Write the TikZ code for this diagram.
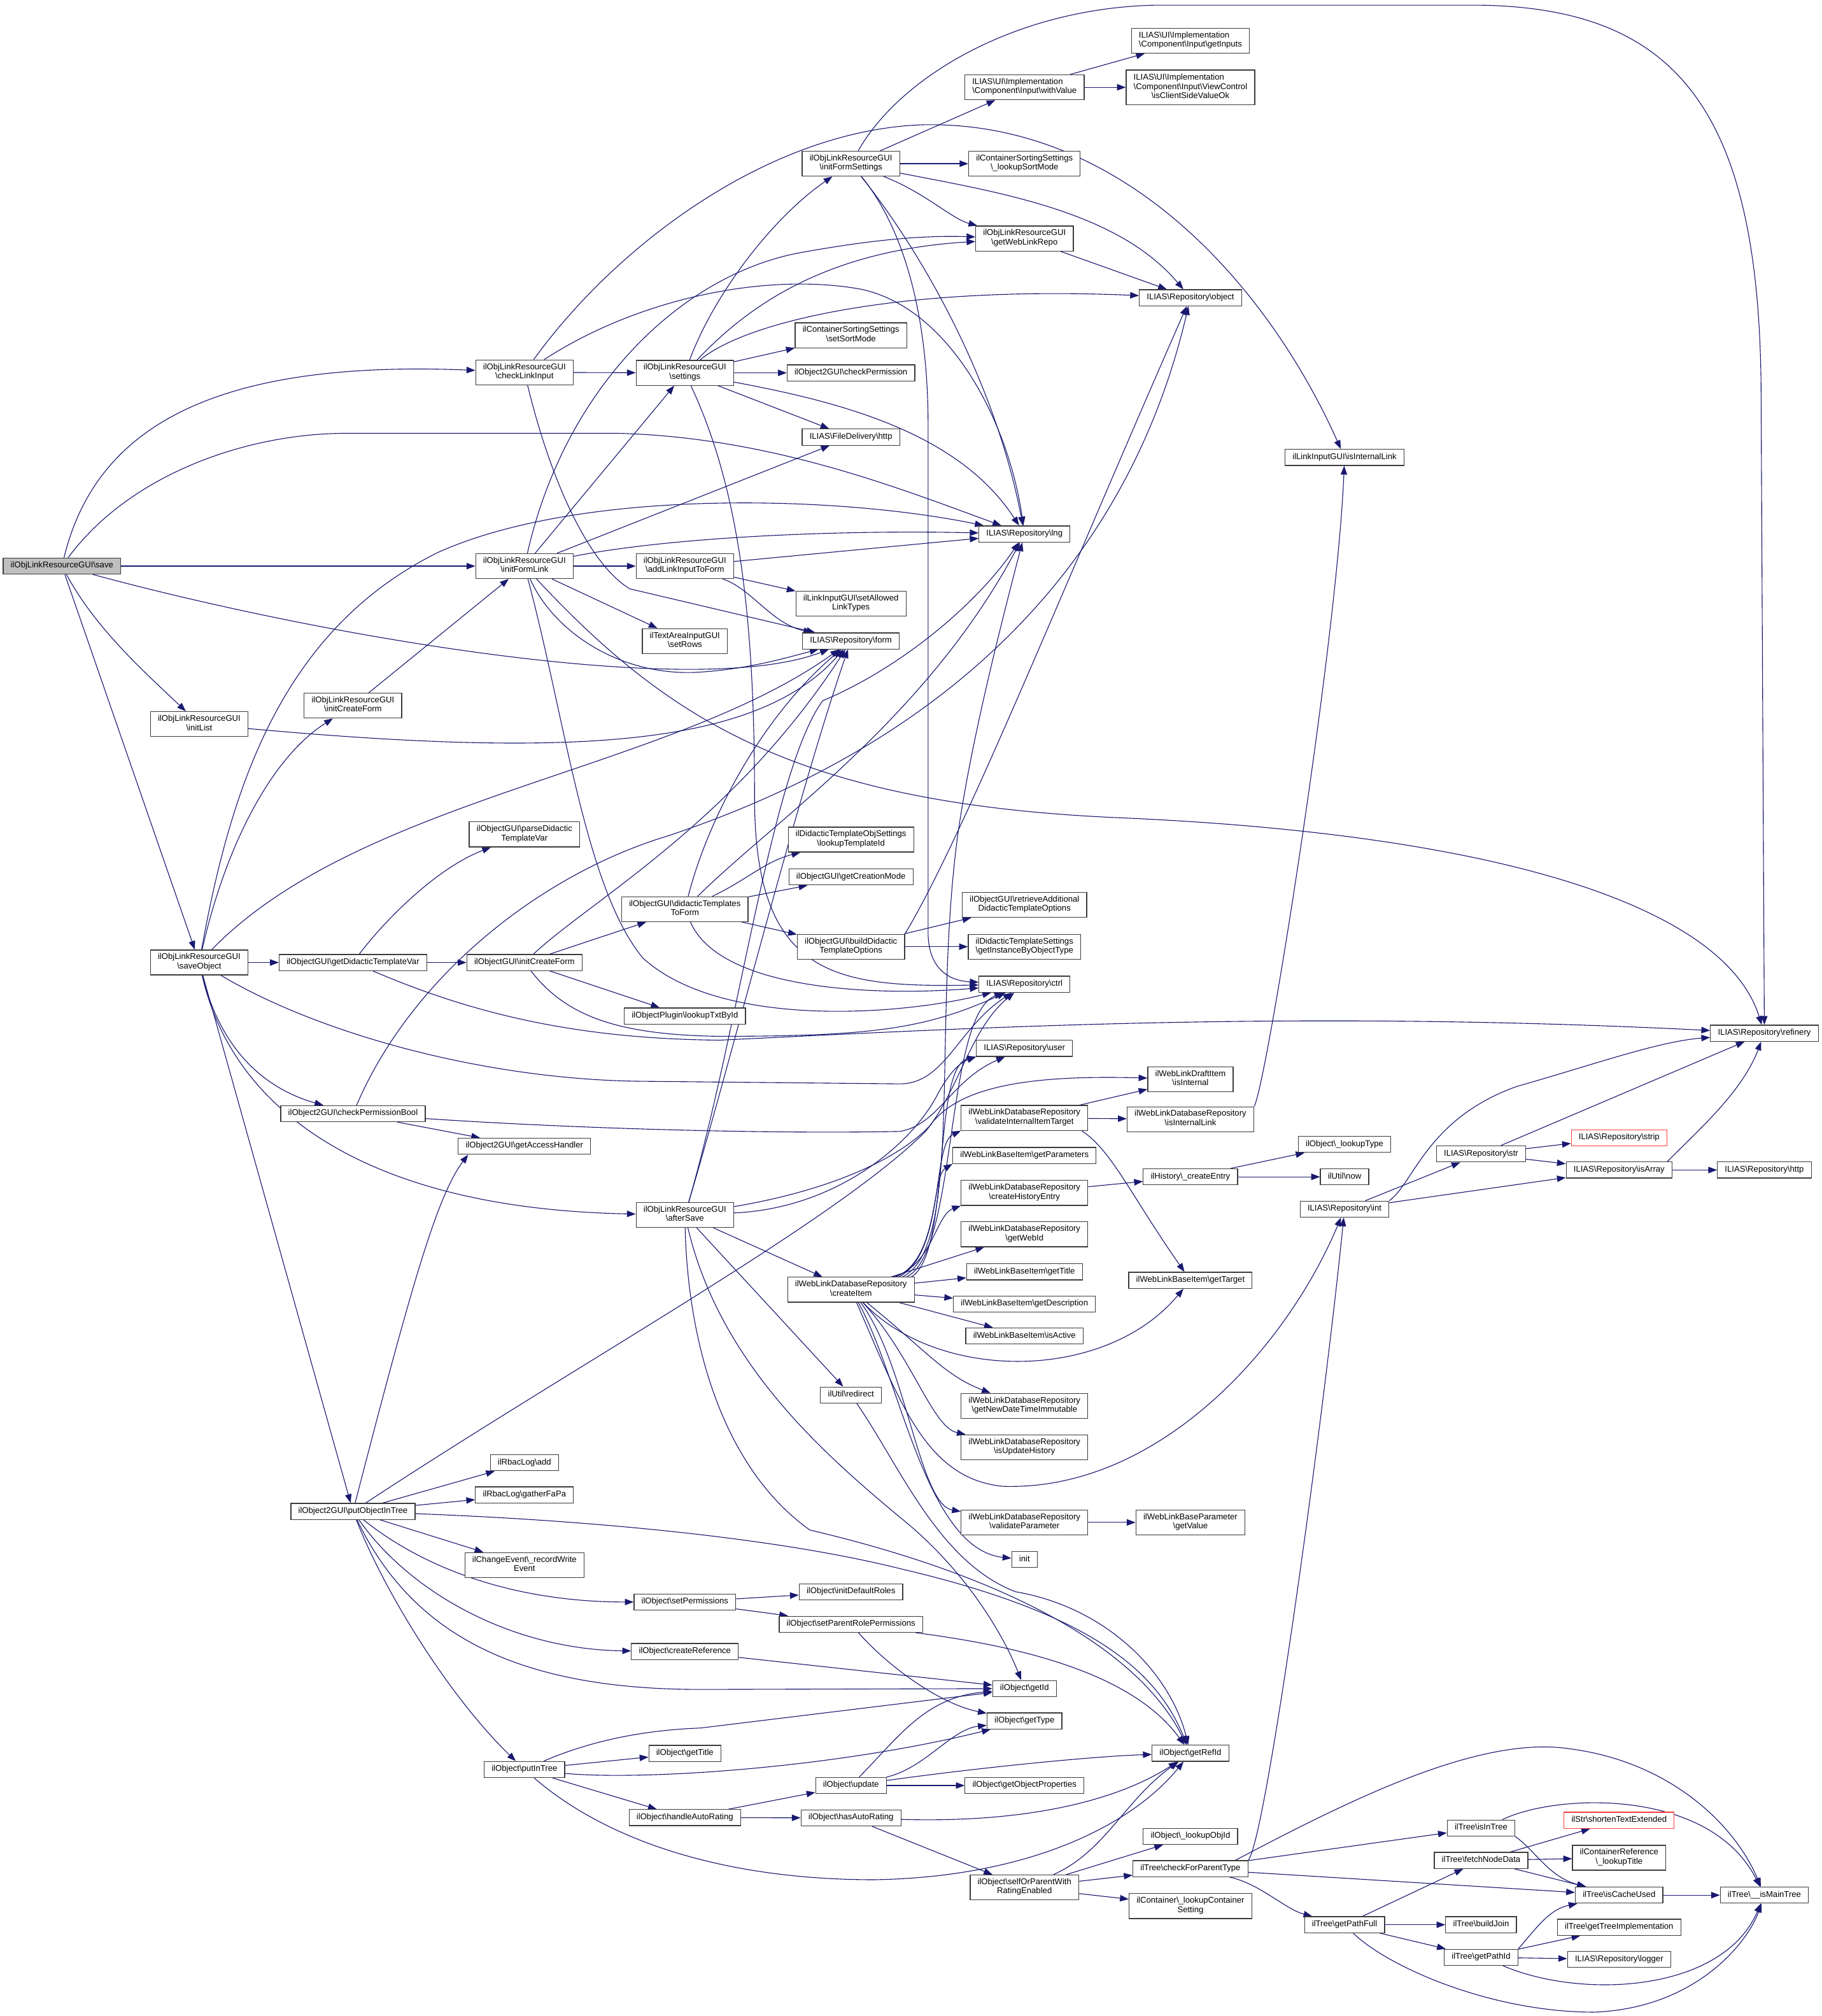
\documentclass[tikz,border=0pt]{standalone}
\usepackage{fontspec}
\newfontfamily\lsans{Liberation Sans}
\usetikzlibrary{arrows.meta}
\definecolor{mblue}{RGB}{25,25,112}
\definecolor{nborder}{RGB}{60,60,60}
\definecolor{truncred}{RGB}{255,60,60}
\newcommand{\nf}{\lsans\fontsize{6.5}{7.2}\selectfont}
\newcommand{\bs}{\textbackslash}
\pgfdeclarelayer{bg}
\pgfsetlayers{bg,main}
\tikzset{
 nd/.style={draw=nborder, fill=white, line width=0.6pt, inner xsep=5.8pt, inner ysep=2.65pt, font=\nf, align=center, execute at begin node=\strut, execute at end node=\strut},
 ndl/.style={nd, align=left},
 ndt/.style={draw=nborder, fill=white, line width=0.6pt, inner xsep=5.8pt, inner ysep=2.65pt, font=\nf},
 rootnd/.style={nd, fill=black!25},
 truncnd/.style={nd, draw=truncred},
 e/.style={draw=mblue, line width=0.55pt, -{Triangle[length=6.8pt,width=5pt]}},
}
\begin{document}
\begin{tikzpicture}[x=1pt,y=-1pt]
\useasboundingbox (0,0) rectangle (1417,1568);
% column 1-3
\node[rootnd] (save) at (48.2,440.3) {ilObjLinkResourceGUI\bs save};
\node[nd] (initlist) at (155,563.2) {ilObjLinkResourceGUI\\\bs initList};
\node[nd] (saveobj) at (155,748.6) {ilObjLinkResourceGUI\\\bs saveObject};
\node[nd] (icfL) at (274.6,548.8) {ilObjLinkResourceGUI\\\bs initCreateForm};
\node[nd] (gdtv) at (274.6,748.6) {ilObjectGUI\bs getDidacticTemplateVar};
\node[nd] (cpb) at (274.6,866.2) {ilObject2GUI\bs checkPermissionBool};
\node[nd] (poit) at (274.6,1175.5) {ilObject2GUI\bs putObjectInTree};
% column 4
\node[nd] (cli) at (408,289.6) {ilObjLinkResourceGUI\\\bs checkLinkInput};
\node[nd] (ifl) at (408,440.3) {ilObjLinkResourceGUI\\\bs initFormLink};
\node[nd] (pdtv) at (408,649) {ilObjectGUI\bs parseDidactic\\TemplateVar};
\node[nd] (icfO) at (408,748.6) {ilObjectGUI\bs initCreateForm};
\node[nd] (gah) at (408,891.5) {ilObject2GUI\bs getAccessHandler};
\node[nd] (radd) at (408,1137.7) {ilRbacLog\bs add};
\node[nd] (rgfp) at (408,1162.7) {ilRbacLog\bs gatherFaPa};
\node[nd] (rwe) at (408,1217.2) {ilChangeEvent\bs \_recordWrite\\Event};
\node[nd] (pit) at (408,1376.3) {ilObject\bs putInTree};
% column 5
\node[nd] (settings) at (532.8,290) {ilObjLinkResourceGUI\\\bs settings};
\node[nd] (alitf) at (532.8,440.3) {ilObjLinkResourceGUI\\\bs addLinkInputToForm};
\node[nd] (setrows) at (532.8,498.6) {ilTextAreaInputGUI\\\bs setRows};
\node[nd] (dttf) at (532.8,707.1) {ilObjectGUI\bs didacticTemplates\\ToForm};
\node[nd] (ltbi) at (532.8,790.2) {ilObjectPlugin\bs lookupTxtById};
\node[nd] (aftersave) at (532.8,945) {ilObjLinkResourceGUI\\\bs afterSave};
\node[nd] (setperm) at (532.8,1246) {ilObject\bs setPermissions};
\node[nd] (createref) at (532.8,1284.5) {ilObject\bs createReference};
\node[nd] (gettitleO) at (532.8,1363.7) {ilObject\bs getTitle};
\node[nd] (har) at (532.8,1413.7) {ilObject\bs handleAutoRating};
% column 6
\node[nd] (ifs) at (662,127.3) {ilObjLinkResourceGUI\\\bs initFormSettings};
\node[nd] (ssm) at (662,260.8) {ilContainerSortingSettings\\\bs setSortMode};
\node[nd] (cp) at (662,290) {ilObject2GUI\bs checkPermission};
\node[nd] (fdhttp) at (662,340) {ILIAS\bs FileDelivery\bs http};
\node[nd] (salt) at (662,469.4) {ilLinkInputGUI\bs setAllowed\\LinkTypes};
\node[nd] (form) at (662,498.5) {ILIAS\bs Repository\bs form};
\node[nd] (ltid) at (662,653) {ilDidacticTemplateObjSettings\\\bs lookupTemplateId};
\node[nd] (gcm) at (662,682.1) {ilObjectGUI\bs getCreationMode};
\node[nd] (bdto) at (662,736.3) {ilObjectGUI\bs buildDidactic\\TemplateOptions};
\node[nd] (createitem) at (662,1003.1) {ilWebLinkDatabaseRepository\\\bs createItem};
\node[nd] (redirect) at (662,1085) {ilUtil\bs redirect};
\node[nd] (idr) at (662,1238.1) {ilObject\bs initDefaultRoles};
\node[nd] (sprp) at (662,1263.3) {ilObject\bs setParentRolePermissions};
\node[nd] (update) at (662,1388.7) {ilObject\bs update};
\node[nd] (hasar) at (662,1413.9) {ilObject\bs hasAutoRating};
% column 7
\node[ndl] (withvalue) at (797,67.9) {ILIAS\bs UI\bs Implementation\\\bs Component\bs Input\bs withValue};
\node[nd] (lsm) at (797,127.3) {ilContainerSortingSettings\\\bs \_lookupSortMode};
\node[nd] (gwlr) at (797,185.5) {ilObjLinkResourceGUI\\\bs getWebLinkRepo};
\node[nd] (lng) at (797,415.3) {ILIAS\bs Repository\bs lng};
\node[nd] (rado) at (797,703.8) {ilObjectGUI\bs retrieveAdditional\\DidacticTemplateOptions};
\node[nd] (gibot) at (797,736.3) {ilDidacticTemplateSettings\\\bs getInstanceByObjectType};
\node[nd] (ctrl) at (797,765.5) {ILIAS\bs Repository\bs ctrl};
\node[nd] (user) at (797,815.4) {ILIAS\bs Repository\bs user};
\node[nd] (viit) at (797,869.5) {ilWebLinkDatabaseRepository\\\bs validateInternalItemTarget};
\node[nd] (gparams) at (797,898.7) {ilWebLinkBaseItem\bs getParameters};
\node[nd] (che) at (797,927.8) {ilWebLinkDatabaseRepository\\\bs createHistoryEntry};
\node[nd] (gwid) at (797,960) {ilWebLinkDatabaseRepository\\\bs getWebId};
\node[nd] (gtitleW) at (797,989.2) {ilWebLinkBaseItem\bs getTitle};
\node[nd] (gdesc) at (797,1014.2) {ilWebLinkBaseItem\bs getDescription};
\node[nd] (isactive) at (797,1039.1) {ilWebLinkBaseItem\bs isActive};
\node[nd] (gndti) at (797,1093.4) {ilWebLinkDatabaseRepository\\\bs getNewDateTimeImmutable};
\node[nd] (iuh) at (797,1125.7) {ilWebLinkDatabaseRepository\\\bs isUpdateHistory};
\node[nd] (vparam) at (797,1184.1) {ilWebLinkDatabaseRepository\\\bs validateParameter};
\node[nd] (init) at (797,1213) {init};
\node[nd] (getid) at (797,1313.3) {ilObject\bs getId};
\node[nd] (gettype) at (797,1338.5) {ilObject\bs getType};
\node[nd] (gop) at (797,1388.7) {ilObject\bs getObjectProperties};
\node[nd] (sopwre) at (797,1468) {ilObject\bs selfOrParentWith\\RatingEnabled};
% column 8
\node[ndl] (getinputs) at (926.1,31.6) {ILIAS\bs UI\bs Implementation\\\bs Component\bs Input\bs getInputs};
\node[ndt] (icsvo) at (926.1,67.9) {\begin{tabular}{@{}l@{}}ILIAS\bs UI\bs Implementation\\\bs Component\bs Input\bs ViewControl\\\multicolumn{1}{@{}c@{}}{\bs isClientSideValueOk}\end{tabular}};
\node[nd] (object) at (926.1,231.6) {ILIAS\bs Repository\bs object};
\node[nd] (isinternal) at (926.1,839.4) {ilWebLinkDraftItem\\\bs isInternal};
\node[nd] (iilW) at (926.1,870.5) {ilWebLinkDatabaseRepository\\\bs isInternalLink};
\node[nd] (hce) at (926.1,915.3) {ilHistory\bs \_createEntry};
\node[nd] (gtarget) at (926.1,995.8) {ilWebLinkBaseItem\bs getTarget};
\node[nd] (gvalue) at (926.1,1184.1) {ilWebLinkBaseParameter\\\bs getValue};
\node[nd] (getrefid) at (926.1,1363.6) {ilObject\bs getRefId};
\node[nd] (loi) at (926.1,1428.3) {ilObject\bs \_lookupObjId};
\node[nd] (cfpt) at (926.1,1453.4) {ilTree\bs checkForParentType};
\node[nd] (lcs) at (926.1,1482.5) {ilContainer\bs \_lookupContainer\\Setting};
% column 9
\node[nd] (iilL) at (1046,355.8) {ilLinkInputGUI\bs isInternalLink};
\node[nd] (ltype) at (1046,890.1) {ilObject\bs \_lookupType};
\node[nd] (now) at (1046,915.3) {ilUtil\bs now};
\node[nd] (int) at (1046,940.4) {ILIAS\bs Repository\bs int};
\node[nd] (gpf) at (1046,1497) {ilTree\bs getPathFull};
% column 10
\node[nd] (str) at (1152.2,897.5) {ILIAS\bs Repository\bs str};
\node[nd] (iit) at (1152.2,1421.8) {ilTree\bs isInTree};
\node[nd] (fnd) at (1152.2,1447) {ilTree\bs fetchNodeData};
\node[nd] (bj) at (1152.2,1497) {ilTree\bs buildJoin};
\node[nd] (gpid) at (1152.2,1522.3) {ilTree\bs getPathId};
% column 11
\node[truncnd] (strip) at (1259.6,884.9) {ILIAS\bs Repository\bs strip};
\node[nd] (isarray) at (1259.6,910) {ILIAS\bs Repository\bs isArray};
\node[truncnd] (ste) at (1259.6,1415.8) {ilStr\bs shortenTextExtended};
\node[nd] (clt) at (1259.6,1444.9) {ilContainerReference\\\bs \_lookupTitle};
\node[nd] (icu) at (1259.6,1474) {ilTree\bs isCacheUsed};
\node[nd] (gti) at (1259.6,1499) {ilTree\bs getTreeImplementation};
\node[nd] (logger) at (1259.6,1524) {ILIAS\bs Repository\bs logger};
% column 12
\node[nd] (refinery) at (1372.6,803.6) {ILIAS\bs Repository\bs refinery};
\node[nd] (rhttp) at (1372.6,910) {ILIAS\bs Repository\bs http};
\node[nd] (imt) at (1372.6,1474) {ilTree\bs \_\_isMainTree};

\begin{pgfonlayer}{bg}
% save
\draw[e] (save) .. controls (75,330) and (170,280) .. (cli);
\draw[e] (save) .. controls (100,370) and (190,337) .. (270,337) -- (480,337) .. controls (600,340) and (700,380) .. (lng);
\draw[e] (save) -- (ifl);
\draw[e] (save) .. controls (250,495) and (540,545) .. (form);
\draw[e] (save) .. controls (75,490) and (115,525) .. (initlist);
\draw[e] (save) -- (saveobj);
% checkLinkInput
\draw[e] (cli) -- (settings);
\draw[e] (cli) .. controls (480,190) and (600,100) .. (720,97) .. controls (880,95) and (990,230) .. (iilL);
\draw[e] (cli) .. controls (500,230) and (600,212) .. (670,225) .. controls (740,240) and (785,330) .. (lng);
\draw[e] (cli) .. controls (430,380) and (460,440) .. (490,458) -- (form);
% initFormLink
\draw[e] (ifl) -- (alitf);
\draw[e] (ifl) -- (settings);
\draw[e] (ifl) .. controls (440,300) and (530,215) .. (620,197) .. controls (680,186) and (720,183) .. (gwlr);
\draw[e] (ifl) .. controls (520,418) and (650,412) .. (lng);
\draw[e] (ifl) -- (fdhttp);
\draw[e] (ifl) -- (setrows);
\draw[e] (ifl) .. controls (430,490) and (480,525) .. (540,523) .. controls (580,521) and (610,512) .. (form);
\draw[e] (ifl) .. controls (440,560) and (455,690) .. (500,745) .. controls (560,800) and (700,790) .. (ctrl);
\draw[e] (ifl) .. controls (520,560) and (620,625) .. (870,636) .. controls (1150,648) and (1340,700) .. (refinery);
% settings
\draw[e] (settings) .. controls (555,230) and (600,170) .. (ifs);
\draw[e] (settings) .. controls (580,240) and (640,195) .. (gwlr);
\draw[e] (settings) .. controls (580,250) and (700,222) .. (object);
\draw[e] (settings) -- (ssm);
\draw[e] (settings) -- (cp);
\draw[e] (settings) -- (fdhttp);
\draw[e] (settings) .. controls (650,312) and (745,335) .. (lng);
\draw[e] (settings) .. controls (575,380) and (587,480) .. (587,620) .. controls (587,760) and (650,768) .. (ctrl);
% initFormSettings
\draw[e] (ifs) -- (withvalue);
\draw[e] (ifs) -- (lsm);
\draw[e] (ifs) .. controls (720,150) and (740,170) .. (gwlr);
\draw[e] (ifs) .. controls (780,150) and (870,165) .. (object);
\draw[e] (ifs) .. controls (720,200) and (775,300) .. (lng);
\draw[e] (ifs) .. controls (705,180) and (722,250) .. (722,330) -- (722,725) .. controls (722,755) and (740,763) .. (ctrl);
\draw[e] (ifs) .. controls (700,60) and (790,6) .. (900,4) -- (1150,4) .. controls (1300,6) and (1368,80) .. (1370,300) -- (refinery);
% withValue, getWebLinkRepo
\draw[e] (withvalue) -- (getinputs);
\draw[e] (withvalue) -- (icsvo);
\draw[e] (gwlr) -- (object);
% addLinkInputToForm
\draw[e] (alitf) -- (lng);
\draw[e] (alitf) -- (salt);
\draw[e] (alitf) .. controls (585,458) and (600,485) .. (form);
% initList
\draw[e] (initlist) .. controls (450,590) and (590,580) .. (form);
% saveObject
\draw[e] (saveobj) .. controls (175,660) and (210,590) .. (icfL);
\draw[e] (icfL) -- (ifl);
\draw[e] (saveobj) .. controls (180,610) and (220,490) .. (340,430) .. controls (450,380) and (650,385) .. (lng);
\draw[e] (saveobj) .. controls (280,620) and (520,600) .. (form);
\draw[e] (saveobj) -- (gdtv);
\draw[e] (saveobj) .. controls (250,805) and (380,840) .. (500,841) -- (700,843) .. controls (735,843) and (745,800) .. (ctrl);
\draw[e] (saveobj) .. controls (170,810) and (200,845) .. (cpb);
\draw[e] (saveobj) .. controls (180,860) and (280,940) .. (aftersave);
\draw[e] (saveobj) -- (poit);
% getDidacticTemplateVar
\draw[e] (gdtv) .. controls (300,715) and (340,675) .. (pdtv);
\draw[e] (gdtv) -- (icfO);
\draw[e] (gdtv) .. controls (360,785) and (440,808) .. (560,809) .. controls (750,800) and (1000,785) .. (refinery);
% initCreateForm (ObjectGUI)
\draw[e] (icfO) -- (dttf);
\draw[e] (icfO) .. controls (460,700) and (570,640) .. (form);
\draw[e] (icfO) -- (ltbi);
\draw[e] (icfO) .. controls (440,790) and (480,805) .. (560,806) .. controls (680,806) and (720,800) .. (ctrl);
% didacticTemplatesToForm
\draw[e] (dttf) .. controls (580,685) and (595,670) .. (ltid);
\draw[e] (dttf) -- (gcm);
\draw[e] (dttf) -- (bdto);
\draw[e] (dttf) .. controls (600,640) and (720,560) .. (lng);
\draw[e] (dttf) .. controls (550,640) and (590,560) .. (form);
\draw[e] (dttf) .. controls (560,770) and (680,775) .. (ctrl);
% buildDidactic
\draw[e] (bdto) -- (rado);
\draw[e] (bdto) -- (gibot);
\draw[e] (bdto.north east) .. controls (750,650) and (830,450) .. (object);
% checkPermissionBool
\draw[e] (cpb) -- (gah);
\draw[e] (cpb) .. controls (450,878) and (600,882) .. (700,880) .. controls (730,875) and (740,840) .. (user);
\draw[e] (cpb) .. controls (320,760) and (420,680) .. (520,650) .. controls (700,590) and (870,470) .. (object);
% afterSave
\draw[e] (aftersave) .. controls (570,820) and (620,620) .. (form);
\draw[e] (aftersave) .. controls (575,800) and (600,600) .. (640,545) .. controls (700,520) and (760,470) .. (lng);
\draw[e] (aftersave) .. controls (650,940) and (710,890) .. (730,850) .. controls (740,832) and (748,826) .. (user.south west);
\draw[e] (aftersave) .. controls (650,925) and (700,900) .. (723,876) .. controls (745,845) and (800,836) .. (isinternal);
\draw[e] (aftersave) -- (createitem);
\draw[e] (aftersave) -- (redirect);
\draw[e] (aftersave) .. controls (535,1040) and (560,1140) .. (630,1190) .. controls (800,1230) and (890,1290) .. (getrefid);
\draw[e] (aftersave) .. controls (560,1060) and (640,1130) .. (700,1180) .. controls (750,1220) and (780,1270) .. (getid);
\draw[e] (redirect) .. controls (700,1140) and (730,1215) .. (790,1238) .. controls (860,1250) and (910,1300) .. (getrefid);
% putObjectInTree
\draw[e] (poit) .. controls (320,1000) and (340,930) .. ([xshift=8pt]gah.south west);
\draw[e] (poit) .. controls (450,1060) and (650,950) .. (720,880) .. controls (745,850) and (755,800) .. (ctrl);
\draw[e] (poit) -- (radd);
\draw[e] (poit) -- (rgfp);
\draw[e] (poit) -- (rwe);
\draw[e] (poit) .. controls (330,1220) and (400,1246) .. (setperm);
\draw[e] (poit) .. controls (320,1240) and (400,1283) .. (createref);
\draw[e] (poit) .. controls (320,1270) and (400,1314) .. (545,1314) -- (getid);
\draw[e] (poit) .. controls (300,1240) and (350,1320) .. (pit);
\draw[e] (poit) .. controls (450,1182) and (600,1195) .. (700,1220) .. controls (850,1255) and (900,1300) .. (getrefid);
% putInTree
\draw[e] (pit) .. controls (450,1358) and (490,1346) .. (545,1344) -- (getid);
\draw[e] (pit) -- (gettitleO);
\draw[e] (pit) .. controls (500,1385) and (650,1375) .. (gettype);
\draw[e] (pit) -- (har);
\draw[e] (pit) .. controls (470,1430) and (560,1462) .. (680,1462) .. controls (800,1460) and (880,1420) .. (getrefid);
% ilObject misc
\draw[e] (setperm) -- (idr);
\draw[e] (setperm) -- (sprp);
\draw[e] (sprp) .. controls (790,1280) and (880,1300) .. (getrefid);
\draw[e] (sprp) .. controls (690,1295) and (730,1325) .. (gettype);
\draw[e] (createref) -- (getid);
\draw[e] (update) .. controls (700,1350) and (720,1320) .. (getid);
\draw[e] (update) .. controls (720,1375) and (740,1345) .. (gettype);
\draw[e] (update) -- (gop);
\draw[e] (update) .. controls (760,1375) and (850,1366) .. (getrefid);
\draw[e] (har) -- (update);
\draw[e] (har) -- (hasar);
\draw[e] (hasar) .. controls (800,1418) and (870,1400) .. (getrefid);
\draw[e] (hasar) -- (sopwre);
\draw[e] (sopwre) -- (loi);
\draw[e] (sopwre) -- (cfpt);
\draw[e] (sopwre) -- (lcs);
\draw[e] (sopwre) .. controls (860,1440) and (875,1400) .. (getrefid);
% createItem
\draw[e] (createitem.12) .. controls (740,975) and (725,830) .. (user.south west);
\draw[e] (createitem.13) .. controls (745,975) and (735,790) .. (ctrl);
\draw[e] (createitem.14) .. controls (750,970) and (725,800) .. (745,650) .. controls (755,580) and (775,500) .. (lng);
\draw[e] (createitem.15) .. controls (735,975) and (725,890) .. (viit.south west);
\draw[e] (createitem.16) .. controls (730,980) and (725,915) .. (gparams.south west);
\draw[e] (createitem.17) .. controls (725,985) and (728,945) .. (che.south west);
\draw[e] (createitem) -- (gwid);
\draw[e] (createitem) -- (gtitleW);
\draw[e] (createitem) -- (gdesc);
\draw[e] (createitem) -- (isactive);
\draw[e] (createitem) .. controls (730,1075) and (860,1075) .. (gtarget);
\draw[e] (createitem) .. controls (720,1050) and (735,1070) .. (gndti);
\draw[e] (createitem) .. controls (710,1055) and (725,1110) .. (iuh);
\draw[e] (createitem) .. controls (705,1060) and (715,1170) .. (vparam);
\draw[e] (createitem) .. controls (700,1070) and (720,1205) .. (init);
\draw[e] (createitem) .. controls (700,1090) and (720,1150) .. (780,1156) .. controls (900,1160) and (1000,1050) .. (int);
% WebLink
\draw[e] (viit) -- (isinternal);
\draw[e] (viit) -- (iilW);
\draw[e] ([xshift=-5pt]viit.south east) .. controls (865,895) and (880,930) .. (gtarget);
\draw[e] (iilW.north east) .. controls (985,845) and (1040,500) .. (iilL);
\draw[e] (che) -- (hce);
\draw[e] (hce) -- (ltype);
\draw[e] (hce) -- (now);
\draw[e] (vparam) -- (gvalue);
% int / str
\draw[e] (int) -- (str);
\draw[e] (int) -- (isarray);
\draw[e] (int.north east) .. controls (1100,920) and (1110,870) .. (1180,845) .. controls (1240,828) and (1290,810) .. (refinery);
\draw[e] (str) -- (strip);
\draw[e] (str) -- (isarray);
\draw[e] (str) -- (refinery);
\draw[e] (isarray) -- (rhttp);
\draw[e] ([xshift=-4pt]isarray.north east) .. controls (1320,880) and (1355,850) .. (refinery);
% tree
\draw[e] (cfpt.north east) .. controls (985,1430) and (1030,1100) .. (int);
\draw[e] (cfpt) -- (iit);
\draw[e] (cfpt) -- (icu);
\draw[e] (cfpt) .. controls (980,1465) and (1000,1485) .. (gpf);
\draw[e] ([xshift=-10pt]cfpt.north east) .. controls (1050,1400) and (1150,1350) .. (1220,1360) .. controls (1300,1370) and (1350,1420) .. (imt);
\draw[e] (iit.south east) .. controls (1195,1440) and (1205,1460) .. (icu);
\draw[e] ([xshift=-10pt]iit.north east) .. controls (1210,1395) and (1330,1390) .. (imt);
\draw[e] (fnd) -- (ste);
\draw[e] (fnd) -- (clt);
\draw[e] (fnd) -- (icu);
\draw[e] (gpf) -- (fnd);
\draw[e] (gpf) -- (bj);
\draw[e] (gpf) -- (gpid);
\draw[e] (gpf) .. controls (1080,1530) and (1160,1565) .. (1240,1565) .. controls (1320,1562) and (1360,1510) .. (imt);
\draw[e] (gpid) -- (gti);
\draw[e] (gpid) -- (logger);
\draw[e] (gpid.north east) .. controls (1195,1500) and (1205,1485) .. (icu);
\draw[e] ([xshift=-12pt]gpid.south east) .. controls (1230,1555) and (1340,1550) .. (imt);
\draw[e] (icu) -- (imt);
\end{pgfonlayer}
\end{tikzpicture}
\end{document}
